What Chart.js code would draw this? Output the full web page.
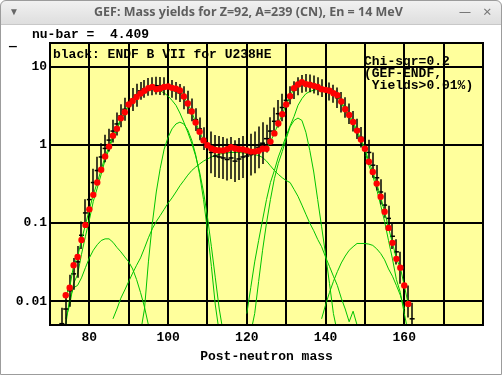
<!DOCTYPE html>
<html>
<head>
<meta charset="utf-8">
<script src="https://cdn.jsdelivr.net/npm/chart.js@4/dist/chart.umd.min.js"></script>
<style>
  body { margin:0; background:#fff; width:502px; height:375px; overflow:hidden; position:relative; }
  #c { position:absolute; left:0; top:0; }
  #bar { position:absolute; left:0; top:0; width:502px; height:25px; z-index:2;
         background:linear-gradient(#f2f2f2,#dedede); border-bottom:1px solid #c8c8c8; box-sizing:border-box;
         border-radius:6px 6px 0 0; font-family:"Noto Sans",sans-serif; color:#5e5e5e; }
  #bar .t { position:absolute; left:94px; top:3px; font-size:12.5px; font-weight:bold; white-space:nowrap; }
  #bar .m { position:absolute; left:9px; top:4px; font-size:10px; color:#666; }
  #bar .n { position:absolute; left:459px; top:3px; font-size:12px; color:#777; }
  #bar .x { position:absolute; left:483px; top:1px; font-size:15px; color:#777; }
  #frame { position:absolute; left:0; top:0; width:502px; height:375px; box-sizing:border-box;
           border:1px solid #9c9c9c; border-radius:6px 6px 0 0; z-index:3; pointer-events:none; }
</style>
</head>
<body>
<canvas id="c" width="502" height="375"></canvas>
<div id="bar"><span class="m">&#9660;</span><span class="t">GEF: Mass yields for Z=92, A=239 (CN), En = 14 MeV</span><span class="n">&#8212;</span><span class="x">&#215;</span></div>
<div id="frame"></div>
<script>
// GEF yields (red dots + green total), masses 74..161
const gefStart = 74;
const gefYield = [0.012,0.015,0.029,0.037,0.061,0.095,0.15,0.23,0.33,0.48,
  0.71,0.95,1.31,1.61,2.19,2.61,3.27,3.64,4.1,4.53,
  4.9,5.3,5.5,5.15,5.25,5.5,5.57,5.35,5.2,4.95,
  4.15,3.37,2.67,1.93,1.47,1.14,0.99,0.9,0.86,0.85,
  0.85,0.88,0.93,0.9,0.88,0.875,0.85,0.82,0.82,0.84,
  0.89,0.89,1.1,1.4,1.87,2.46,3.27,4.19,5.3,5.9,
  6.3,5.97,5.85,5.67,5.5,5.15,5.04,4.9,4.57,4.3,
  3.58,2.85,2.41,1.96,1.52,1.17,0.89,0.61,0.45,0.32,
  0.217,0.14,0.087,0.056,0.035,0.027,0.016,0.0093];

// ENDF B VII (black crosses with error bars), masses 73..162
const endfStart = 73;
const endfYield = [0.0052,0.008,0.0137,0.0225,0.032,0.07,0.135,0.2,0.33,0.47,
  0.7,0.9,1.15,1.5,1.85,2.35,2.85,3.3,3.8,4.3,
  4.9,5.2,5.5,5.6,5.7,5.65,5.6,5.5,5.2,4.9,
  4.6,4.0,3.5,2.8,2.1,1.6,1.2,0.98,0.8,0.72,
  0.7,0.68,0.65,0.68,0.62,0.66,0.7,0.72,0.75,0.8,
  0.93,1.05,1.2,1.5,2.0,2.5,3.0,3.7,4.3,5.0,
  5.6,6.0,6.2,6.1,5.9,5.6,5.3,5.1,4.8,4.5,
  4.0,3.5,3.0,2.5,2.0,1.6,1.25,1.0,0.8,0.55,
  0.38,0.25,0.17,0.115,0.068,0.043,0.027,0.016,0.01,0.006];
// error bar as a factor (bar goes from y/f to y*f)
const endfErrFactor = [1.6,1.6,1.6,1.6,1.6,1.5,1.5,1.5,1.5,1.5,
  1.5,1.5,1.4,1.4,1.4,1.4,1.4,1.4,1.4,1.4,
  1.3,1.3,1.3,1.3,1.3,1.3,1.3,1.3,1.3,1.3,
  1.3,1.4,1.4,1.4,1.4,1.4,1.4,1.85,1.85,1.85,
  1.85,1.85,1.85,1.85,1.85,1.85,1.85,1.85,1.85,1.85,
  1.85,1.85,1.5,1.5,1.5,1.5,1.5,1.5,1.3,1.3,
  1.3,1.3,1.3,1.3,1.3,1.3,1.3,1.3,1.3,1.3,
  1.35,1.35,1.35,1.35,1.35,1.35,1.35,1.35,1.45,1.45,
  1.45,1.45,1.45,1.45,1.45,1.45,1.6,1.6,1.6,1.6];

// GEF components (green lines)
const s2LightStart = 74;
const s2Light = [0.006,0.009,0.017,0.022,0.04,0.068,0.11,0.19,0.28,0.42,
  0.64,0.88,1.24,1.55,2.13,2.55,3.2,3.58,4.05,4.48,
  4.85,5.1,5.2,5.05,4.9,4.6,4.2,3.7,3.2,2.55,
  1.95,1.45,1.05,0.72,0.45,0.25,0.12,0.05,0.02,0.008,0.004];
const s1LightStart = 93;
const s1Light = [0.004,0.008,0.032,0.1,0.25,0.5,0.88,1.25,1.6,1.85,
  1.95,1.85,1.55,1.15,0.75,0.42,0.2,0.08,0.028,0.009,0.004];
const bumpLightStart = 74;
const bumpLight = [0.005,0.011,0.015,0.016,0.02,0.027,0.036,0.045,0.053,0.06,
  0.063,0.063,0.057,0.049,0.043,0.037,0.032,0.026,0.019,0.013,0.0085,0.005];
const broadStart = 86;
const broad = [0.006,0.008,0.011,0.014,0.018,0.023,0.029,0.036,0.048,0.065,
  0.085,0.105,0.125,0.15,0.18,0.21,0.25,0.3,0.35,0.41,
  0.47,0.52,0.57,0.62,0.66,0.7,0.73,0.76,0.78,0.79,
  0.8,0.8,0.8,0.79,0.78,0.77,0.75,0.73,0.69,0.62,
  0.54,0.47,0.42,0.38,0.35,0.33,0.27,0.22,0.17,0.13,
  0.1,0.08,0.062,0.05,0.037,0.028,0.021,0.016,0.011,0.008,
  0.0055,0.0075,0.005];
const s2HeavyStart = 120;
const s2Heavy = [0.007,0.015,0.032,0.06,0.11,0.2,0.33,0.47,0.7,0.95,
  1.3,1.75,2.3,3.2,3.9,4.5,4.8,5.0,5.1,4.95,
  4.9,4.75,4.45,4.15,3.45,2.75,2.3,1.85,1.42,1.1,
  0.83,0.55,0.4,0.27,0.17,0.105,0.06,0.035,0.019,0.013,0.007,0.004];
const s1HeavyStart = 121;
const s1Heavy = [0.004,0.007,0.018,0.045,0.1,0.2,0.37,0.58,0.82,1.2,
  1.7,2.05,2.2,2.05,1.45,0.85,0.45,0.2,0.09,0.04,0.017,0.007,0.004];
const bumpHeavyStart = 139;
const bumpHeavy = [0.006,0.009,0.013,0.018,0.024,0.031,0.038,0.045,0.05,0.055,
  0.055,0.055,0.054,0.052,0.047,0.041,0.034,0.026,0.021,0.016,0.012,0.008];

const yTicks = [0.01, 0.1, 1, 10];
const xLabelTicks = [80, 100, 120, 140, 160];

const pts = (start, arr) => arr.map((v, i) => ({x: start + i, y: v}));
const green = '#00c400';
const comp = (start, arr) => ({
  data: pts(start, arr), showLine: true, borderColor: green, borderWidth: 1,
  pointRadius: 0, tension: 0, fill: false
});

const mono = '"Liberation Mono", "DejaVu Sans Mono", monospace';

const decor = {
  id: 'decor',
  beforeDraw(chart) {
    const {ctx, chartArea: a} = chart;
    ctx.save();
    ctx.fillStyle = '#ffff9c';
    ctx.fillRect(a.left, a.top, a.right - a.left, a.bottom - a.top);
    ctx.restore();
  },
  afterDatasetDraw(chart, args) {
    if (args.index !== 1) return;
    const {ctx, chartArea: a} = chart;
    const xs = chart.scales.x, ys = chart.scales.y;
    ctx.save();
    ctx.beginPath();
    ctx.rect(a.left, a.top, a.right - a.left, a.bottom - a.top);
    ctx.clip();
    ctx.strokeStyle = '#000';
    ctx.lineWidth = 1.5;
    endfYield.forEach((v, i) => {
      const f = endfErrFactor[i];
      const px = Math.round(xs.getPixelForValue(endfStart + i));
      ctx.beginPath();
      ctx.moveTo(px, ys.getPixelForValue(v * f));
      ctx.lineTo(px, ys.getPixelForValue(v / f));
      ctx.stroke();
    });
    ctx.restore();
  },
  afterDraw(chart) {
    const {ctx, chartArea: a} = chart;
    ctx.save();
    ctx.strokeStyle = '#000';
    ctx.lineWidth = 2;
    ctx.strokeRect(a.left, a.top, a.right - a.left, a.bottom - a.top);
    ctx.fillStyle = '#000';
    ctx.font = 'bold 13px ' + mono;
    ctx.textBaseline = 'middle';
    ctx.fillText('nu-bar =  4.409', 32, 35);
    ctx.fillText('\u2014', 9, 47);
    ctx.fillText('black: ENDF B VII for U238HE', 53, 55);
    ctx.fillText('Chi-sqr=0.2', 364, 62);
    ctx.fillText('(GEF-ENDF,', 364, 74);
    ctx.fillText(' Yields>0.01%)', 364, 86);
    ctx.restore();
  }
};

new Chart(document.getElementById('c'), {
  type: 'scatter',
  data: {
    datasets: [
      { data: pts(gefStart, gefYield), showLine: true, borderColor: green, borderWidth: 1,
        pointRadius: 3.2, pointBackgroundColor: '#ff0000', pointBorderWidth: 0, tension: 0 },
      { data: pts(endfStart, endfYield), showLine: false, pointStyle: 'line', pointRadius: 2.5,
        pointBorderColor: '#000', pointBorderWidth: 1.5 },
      comp(s2LightStart, s2Light),
      comp(s1LightStart, s1Light),
      comp(bumpLightStart, bumpLight),
      comp(broadStart, broad),
      comp(s2HeavyStart, s2Heavy),
      comp(s1HeavyStart, s1Heavy),
      comp(bumpHeavyStart, bumpHeavy)
    ]
  },
  options: {
    responsive: false,
    devicePixelRatio: 1,
    animation: false,
    events: [],
    layout: { padding: { top: 43, right: 19, bottom: 0, left: 0 } },
    plugins: { legend: { display: false }, tooltip: { enabled: false } },
    scales: {
      x: {
        type: 'linear', min: 70, max: 180,
        afterFit(s) { s.height = 50; },
        border: { display: false },
        grid: { color: '#000', lineWidth: 2, drawTicks: false },
        ticks: {
          stepSize: 10, padding: 5, color: '#000', maxRotation: 0, autoSkip: false,
          font: { family: mono, weight: 'bold', size: 13 },
          callback: v => xLabelTicks.includes(v) ? String(v) : ''
        },
        title: { display: true, text: 'Post-neutron mass', color: '#000',
          font: { family: mono, weight: 'bold', size: 13 }, padding: { top: 0, bottom: 10 } }
      },
      y: {
        type: 'logarithmic', min: 0.005, max: 20,
        afterFit(s) { s.width = 50; },
        afterBuildTicks(s) { s.ticks = yTicks.map(v => ({ value: v })); },
        border: { display: false },
        grid: { color: '#000', lineWidth: 2, drawTicks: false },
        ticks: {
          padding: 3, color: '#000', autoSkip: false,
          font: { family: mono, weight: 'bold', size: 13 },
          callback: v => String(v)
        }
      }
    }
  },
  plugins: [decor]
});
</script>
</body>
</html>
